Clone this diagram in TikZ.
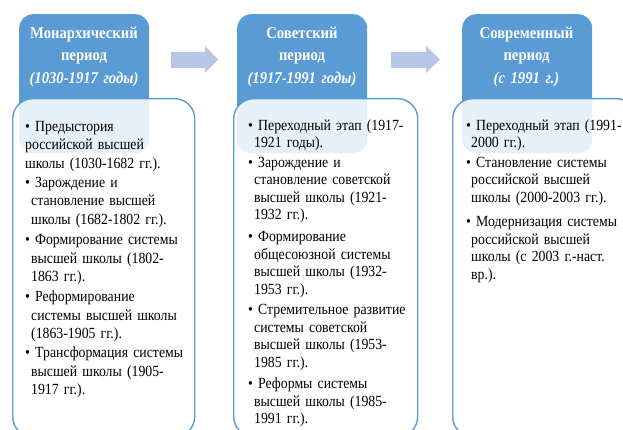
\documentclass[tikz,border=0pt]{standalone}
\usepackage{fontspec}
\setmainfont[FakeStretch=0.89]{Liberation Serif}
\definecolor{hblue}{HTML}{5B9BD5}
\definecolor{ablue}{HTML}{B4C7E7}
\begin{document}
\begin{tikzpicture}[x=1pt,y=-1pt,
  hdr/.style={fill=hblue, draw=none, rounded corners=14pt, anchor=north west, minimum width=130pt, minimum height=139pt, inner sep=0},
  bodybox/.style={fill=white, fill opacity=0.85, draw=hblue, line width=1.4pt, rounded corners=20pt, anchor=north west, minimum width=182pt, minimum height=338pt, inner sep=0},
  htext/.style={text=white, font=\fontsize{16.5}{22.5}\selectfont\bfseries, align=center, text width=140pt, anchor=base, inner sep=0},
  bulA/.style={anchor=base west, inner sep=0, text width=185pt, align=left, font=\fontsize{15.5}{18.5}\selectfont},
  bulB/.style={anchor=base west, inner sep=0, text width=185pt, align=left, font=\fontsize{15.5}{17.5}\selectfont},
  arr/.style={fill=ablue, draw=none}]
\useasboundingbox (0,0) rectangle (623,430);
\clip (0,0) rectangle (623,430);
% headers
\node[hdr] (h1) at (19,14) {};
\node[hdr] (h2) at (237,14) {};
\node[hdr] (h3) at (462,14) {};
% arrows
\fill[arr] (171,52) -- (205,52) -- (205,46) -- (218,59.5) -- (205,73) -- (205,68) -- (171,68) -- cycle;
\fill[arr] (391,52) -- (426,52) -- (426,46) -- (440,59.5) -- (426,73) -- (426,68) -- (391,68) -- cycle;
% header texts
\node[htext] (t1) at (84,38.5) {Монархический\\период\\\textit{(1030-1917 годы)}};
\node[htext] (t2) at (302,38.5) {Советский\\период\\\textit{(1917-1991 годы)}};
\node[htext] (t3) at (526.5,38.5) {Современный\\период\\\textit{(с 1991 г.)}};
% body boxes
\node[bodybox] (b1) at (12,98) {};
\node[bodybox, minimum width=184pt] (b2) at (233,98) {};
\node[bodybox, minimum width=184pt] (b3) at (452,98) {};
% box 1 items
\node[bulA] (a1) at (25,131.5) {• Предыстория\\российской высшей\\школы (1030-1682 гг.).};
\node[bulA] (a2) at (25,187.5) {• Зарождение и\\\hspace*{6pt}становление высшей\\\hspace*{6pt}школы (1682-1802 гг.).};
\node[bulA] (a3) at (25,244.5) {• Формирование системы\\\hspace*{6pt}высшей школы (1802-\\\hspace*{6pt}1863 гг.).};
\node[bulA] (a4) at (25,301.5) {• Реформирование\\\hspace*{6pt}системы высшей школы\\\hspace*{6pt}(1863-1905 гг.).};
\node[bulA] (a5) at (25,357.5) {• Трансформация системы\\\hspace*{6pt}высшей школы (1905-\\\hspace*{6pt}1917 гг.).};
% box 2 items
\node[bulB] (c1) at (248,130.5) {• Переходный этап (1917-\\\hspace*{6pt}1921 годы).};
\node[bulB] (c2) at (248,167.5) {• Зарождение и\\\hspace*{6pt}становление советской\\\hspace*{6pt}высшей школы (1921-\\\hspace*{6pt}1932 гг.).};
\node[bulB] (c3) at (248,241.5) {• Формирование\\\hspace*{6pt}общесоюзной системы\\\hspace*{6pt}высшей школы (1932-\\\hspace*{6pt}1953 гг.).};
\node[bulB] (c4) at (248,314.5) {• Стремительное развитие\\\hspace*{6pt}системы советской\\\hspace*{6pt}высшей школы (1953-\\\hspace*{6pt}1985 гг.).};
\node[bulB] (c5) at (248,388.5) {• Реформы системы\\\hspace*{6pt}высшей школы (1985-\\\hspace*{6pt}1991 гг.).};
% box 3 items
\node[bulB] (d1) at (466,130.5) {• Переходный этап (1991-\\\hspace*{5pt}2000 гг.).};
\node[bulB] (d2) at (466,167.5) {• Становление системы\\\hspace*{5pt}российской высшей\\\hspace*{5pt}школы (2000-2003 гг.).};
\node[bulB] (d3) at (466,226.5) {• Модернизация системы\\\hspace*{5pt}российской высшей\\\hspace*{5pt}школы (с 2003 г.-наст.\\\hspace*{5pt}вр.).};
\end{tikzpicture}
\end{document}
